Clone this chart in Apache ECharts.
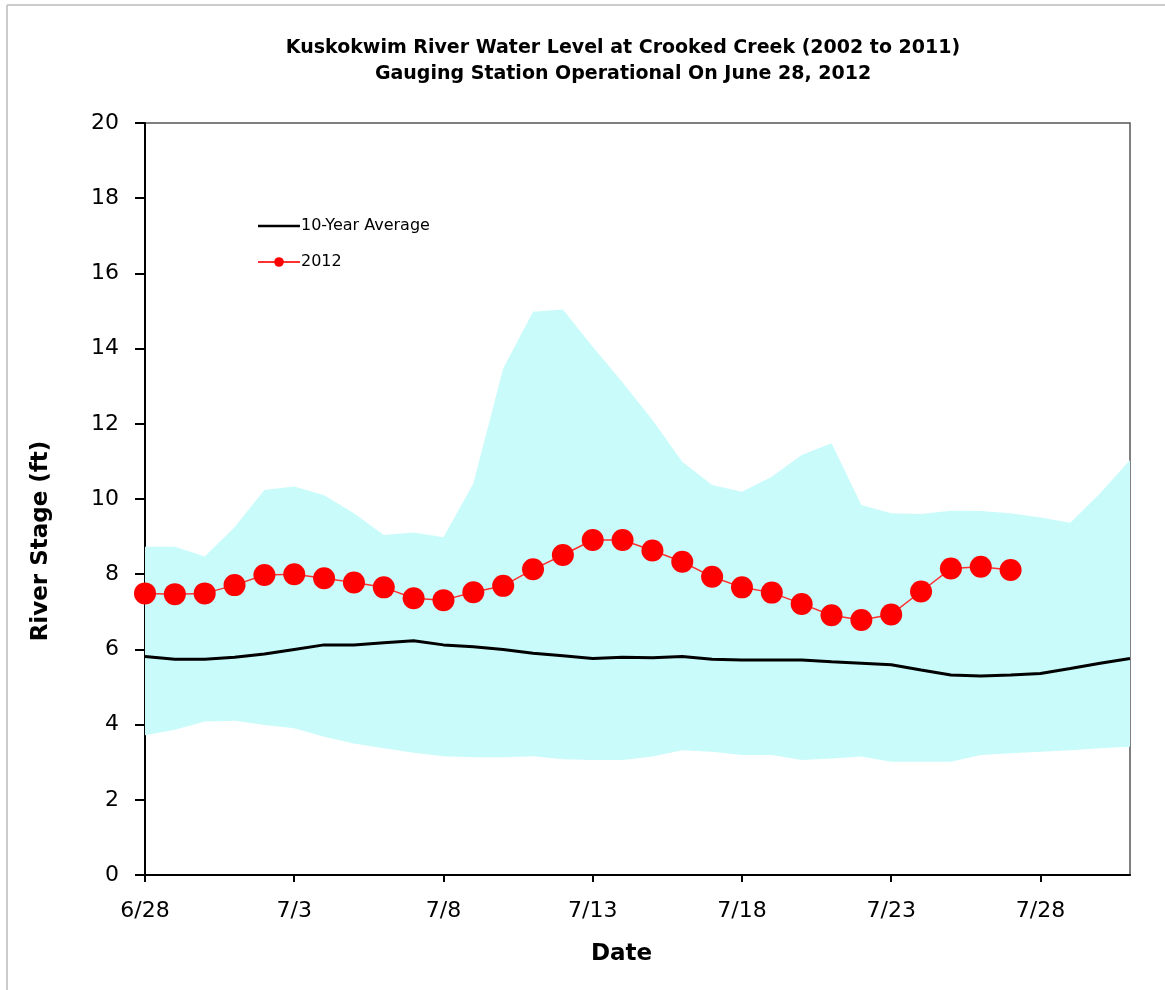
<!DOCTYPE html>
<html>
<head>
<meta charset="utf-8">
<script src="https://cdn.jsdelivr.net/npm/echarts@6/dist/echarts.min.js"></script>
<style>
html,body{margin:0;padding:0;background:#fff;}
#chart{width:1165px;height:990px;}
</style>
</head>
<body>
<div id="chart"></div>
<script>
var dates = ['6/28','6/29','6/30','7/1','7/2','7/3','7/4','7/5','7/6','7/7','7/8','7/9','7/10','7/11','7/12','7/13','7/14','7/15','7/16','7/17','7/18','7/19','7/20','7/21','7/22','7/23','7/24','7/25','7/26','7/27','7/28','7/29','7/30','7/31'];

var avg10 = [5.81,5.74,5.74,5.79,5.88,6.00,6.12,6.12,6.18,6.23,6.12,6.07,6.00,5.90,5.83,5.76,5.79,5.78,5.81,5.74,5.72,5.72,5.72,5.67,5.63,5.59,5.45,5.32,5.29,5.32,5.36,5.49,5.63,5.76];

var y2012 = [7.49,7.47,7.49,7.71,7.98,8.00,7.89,7.78,7.65,7.36,7.31,7.52,7.69,8.13,8.51,8.91,8.91,8.63,8.33,7.93,7.65,7.51,7.21,6.91,6.78,6.93,7.54,8.15,8.20,8.11];

var bandLow = [3.72,3.86,4.08,4.10,3.99,3.90,3.68,3.50,3.37,3.25,3.16,3.13,3.13,3.16,3.08,3.06,3.06,3.15,3.32,3.28,3.19,3.19,3.06,3.10,3.15,3.01,3.01,3.01,3.19,3.24,3.28,3.32,3.37,3.41];

var bandHigh = [8.73,8.73,8.47,9.25,10.24,10.33,10.10,9.62,9.04,9.11,8.98,10.41,13.47,14.98,15.04,14.05,13.10,12.10,10.99,10.37,10.19,10.59,11.17,11.48,9.84,9.62,9.60,9.69,9.68,9.62,9.51,9.37,10.15,11.04];

var yTicks = [0,2,4,6,8,10,12,14,16,18,20];

var bandSpan = bandHigh.map(function(v,i){ return +(v - bandLow[i]).toFixed(2); });

var chart = echarts.init(document.getElementById('chart'), null, {renderer:'canvas'});
var font = 'Verdana, "DejaVu Sans", sans-serif';

chart.setOption({
  backgroundColor: '#ffffff',
  animation: false,
  title: {
    text: 'Kuskokwim River Water Level at Crooked Creek (2002 to 2011)\nGauging Station Operational On June 28, 2012',
    left: 618,
    textAlign: 'center',
    top: 30,
    textStyle: {fontFamily: font, fontSize: 19, fontWeight: 'bold', color: '#000', lineHeight: 26}
  },
  legend: {
    orient: 'vertical',
    left: 252,
    top: 213,
    itemGap: 20,
    itemWidth: 42,
    itemHeight: 12,
    data: [
      {name: '10-Year Average', icon: 'path://M0,5 L42,5 L42,7.5 L0,7.5 Z'},
      {name: '2012'}
    ],
    textStyle: {fontFamily: font, fontSize: 16, color: '#000', padding: [0,0,0,-4]}
  },
  grid: {
    left: 145, right: 35, top: 123, bottom: 115,
    show: true, borderColor: '#555', borderWidth: 1.5, backgroundColor: 'transparent'
  },
  xAxis: {
    type: 'category',
    data: dates,
    boundaryGap: false,
    name: 'Date',
    nameLocation: 'middle',
    nameGap: 62,
    nameTextStyle: {fontFamily: font, fontSize: 23, fontWeight: 'bold', color: '#000', padding: [6, 32, 0, 0]},
    axisLine: {lineStyle: {color: '#000', width: 2}},
    axisTick: {show: true, interval: 4, length: 7, lineStyle: {color: '#000', width: 2}},
    axisLabel: {interval: 4, margin: 25, fontFamily: font, fontSize: 22, color: '#000'},
    splitLine: {show: false}
  },
  yAxis: {
    type: 'value',
    min: yTicks[0],
    max: yTicks[yTicks.length-1],
    interval: 2,
    name: 'River Stage (ft)',
    nameLocation: 'middle',
    nameGap: 92,
    nameTextStyle: {fontFamily: font, fontSize: 23, fontWeight: 'bold', color: '#000', padding: [0, 84, 0, 0]},
    axisLine: {show: true, lineStyle: {color: '#000', width: 2}},
    axisTick: {show: true, length: 10, lineStyle: {color: '#000', width: 2}},
    axisLabel: {margin: 26, fontFamily: font, fontSize: 22, color: '#000'},
    splitLine: {show: false}
  },
  graphic: [
    {type: 'line', shape: {x1: 7, y1: 5, x2: 1165, y2: 5}, style: {stroke: '#bbb', lineWidth: 1.5}},
    {type: 'line', shape: {x1: 7, y1: 5, x2: 7, y2: 990}, style: {stroke: '#bbb', lineWidth: 1.5}}
  ],
  series: [
    {
      name: 'low', type: 'line', data: bandLow, stack: 'band',
      symbol: 'none', lineStyle: {opacity: 0}, areaStyle: {opacity: 0},
      silent: true, z: 1
    },
    {
      name: 'range', type: 'line', data: bandSpan, stack: 'band',
      symbol: 'none', lineStyle: {opacity: 0},
      areaStyle: {color: '#c9fbfb', opacity: 1},
      silent: true, z: 1
    },
    {
      name: '10-Year Average', type: 'line', data: avg10,
      symbol: 'none', lineStyle: {color: '#000', width: 3},
      itemStyle: {color: '#000'}, z: 3
    },
    {
      name: '2012', type: 'line', data: y2012,
      symbol: 'circle', symbolSize: 22, showAllSymbol: true,
      lineStyle: {color: '#ff3030', width: 1.5},
      itemStyle: {color: '#ff0000'}, z: 4
    }
  ]
});
</script>
</body>
</html>
